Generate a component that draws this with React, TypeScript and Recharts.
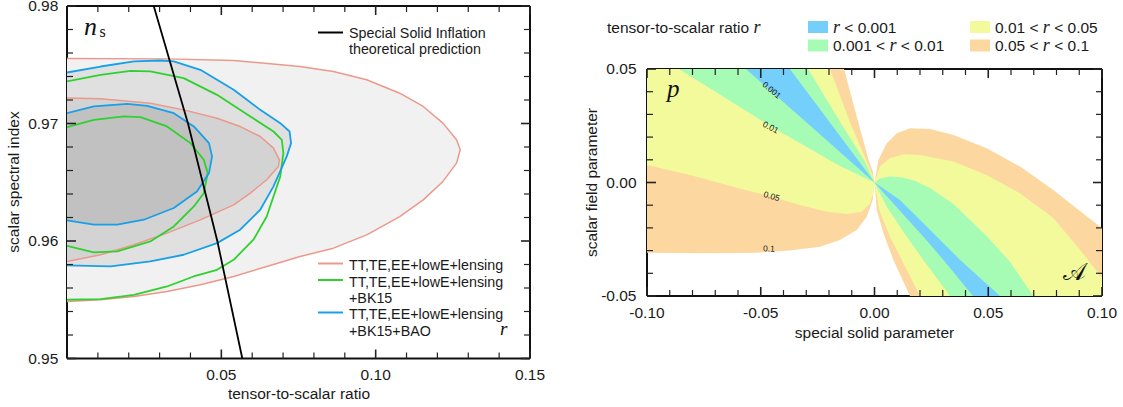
import { Scatter, ScatterChart, XAxis, YAxis } from "recharts"

type P = [number, number]

// ---------- left panel: r vs n_s contours ----------
const LX_TICKS = [0.01, 0.02, 0.03, 0.04, 0.05, 0.06, 0.07, 0.08, 0.09, 0.1, 0.11, 0.12, 0.13, 0.14, 0.15]
const LX_MAJOR = [0.05, 0.1, 0.15]
const LY_TICKS = [0.95, 0.952, 0.954, 0.956, 0.958, 0.96, 0.962, 0.964, 0.966, 0.968, 0.97, 0.972, 0.974, 0.976, 0.978, 0.98]
const LY_MAJOR = [0.95, 0.96, 0.97, 0.98]

const ttOuter: P[] = [
  [0, 0.97553], [0.0324, 0.9755], [0.054, 0.97536], [0.0755, 0.97485], [0.0863, 0.97443], [0.0971, 0.97372],
  [0.1078, 0.97258], [0.1154, 0.97145], [0.1218, 0.97003], [0.1262, 0.96861], [0.1274, 0.96776], [0.1262, 0.96663],
  [0.1218, 0.96507], [0.1154, 0.9635], [0.1078, 0.96208], [0.0971, 0.96052], [0.0863, 0.95939], [0.0755, 0.95868],
  [0.0647, 0.95783], [0.054, 0.95698], [0.0432, 0.95627], [0.0324, 0.9557], [0.0217, 0.95528], [0.0109, 0.955], [0, 0.95485],
]
const ttInner: P[] = [
  [0, 0.97216], [0.0109, 0.9721], [0.027, 0.97173], [0.0378, 0.97116], [0.0486, 0.97045], [0.0561, 0.96974],
  [0.0626, 0.96889], [0.0669, 0.9679], [0.0688, 0.96691], [0.0685, 0.96634], [0.0647, 0.96521], [0.0594, 0.96408],
  [0.054, 0.96308], [0.0432, 0.9618], [0.0324, 0.96067], [0.0217, 0.95968], [0.0109, 0.95883], [0, 0.95826],
]
const bk15Outer: P[] = [
  [0, 0.97358], [0.0109, 0.97414], [0.0206, 0.97448], [0.027, 0.97443], [0.0378, 0.97386], [0.0486, 0.97244],
  [0.0594, 0.9706], [0.0669, 0.96932], [0.0696, 0.96861], [0.0701, 0.96748], [0.0691, 0.9655], [0.0647, 0.96209],
  [0.0604, 0.96011], [0.054, 0.9584], [0.0486, 0.95755], [0.041, 0.95698], [0.0324, 0.95613], [0.0217, 0.95542],
  [0.0109, 0.95505], [0, 0.955],
]
const bk15Inner: P[] = [
  [0, 0.96969], [0.0087, 0.97031], [0.0184, 0.9706], [0.0238, 0.97054], [0.0324, 0.96975], [0.04, 0.96833],
  [0.0443, 0.96691], [0.0456, 0.96578], [0.0443, 0.96407], [0.0411, 0.96294], [0.0346, 0.96124], [0.027, 0.95996],
  [0.0163, 0.95911], [0.0087, 0.95903], [0, 0.95959],
]
const baoOuter: P[] = [
  [0, 0.97434], [0.0109, 0.97485], [0.0217, 0.97528], [0.0303, 0.97536], [0.0346, 0.97528], [0.0432, 0.97457],
  [0.054, 0.97287], [0.0626, 0.97116], [0.0691, 0.97003], [0.0721, 0.96932], [0.0726, 0.96833], [0.0712, 0.9672],
  [0.0669, 0.96465], [0.0626, 0.96266], [0.0561, 0.96096], [0.0486, 0.95982], [0.0378, 0.95883], [0.027, 0.95826],
  [0.0141, 0.95784], [0, 0.95792],
]
const baoInner: P[] = [
  [0, 0.97088], [0.0087, 0.97145], [0.0195, 0.97167], [0.026, 0.9715], [0.0346, 0.97088], [0.0411, 0.96975],
  [0.046, 0.96833], [0.047, 0.9672], [0.046, 0.96578], [0.0421, 0.96422], [0.0346, 0.96281], [0.0249, 0.96181],
  [0.0163, 0.96139], [0.0087, 0.96139], [0, 0.96176],
]
const theory: P[] = [[0.0281, 0.98], [0.0392, 0.97], [0.0487, 0.96], [0.0568, 0.95]]

// ---------- right panel: r bands in (A, p) plane ----------
const RX_TICKS = [-0.1, -0.09, -0.08, -0.07, -0.06, -0.05, -0.04, -0.03, -0.02, -0.01, 0, 0.01, 0.02, 0.03, 0.04, 0.05, 0.06, 0.07, 0.08, 0.09, 0.1]
const RX_MAJOR = [-0.1, -0.05, 0, 0.05, 0.1]
const RY_TICKS = [-0.05, -0.04, -0.03, -0.02, -0.01, 0, 0.01, 0.02, 0.03, 0.04, 0.05]
const RY_MAJOR = [-0.05, 0, 0.05]

// boundaries of the upper-left fan, top edge -> origin
const ulR01: P[] = [[-0.0134, 0.05], [-0.0068, 0.0253], [-0.0026, 0.0099], [-0.0007, 0.0046], [0, 0]]
const ulR005: P[] = [[-0.0196, 0.05], [-0.0103, 0.0253], [-0.0037, 0.0099], [-0.0009, 0.0033], [0, 0]]
const ulR001b: P[] = [[-0.0292, 0.05], [-0.0143, 0.0253], [-0.0046, 0.0099], [0, 0]]
const ulR0001b: P[] = [[-0.0372, 0.05], [-0.0188, 0.0253], [-0.0073, 0.0099], [0, 0]]
const ulR0001a: P[] = [[-0.0565, 0.05], [-0.0286, 0.0253], [-0.0112, 0.0099], [0, 0]]
const ulR001a: P[] = [[-0.086, 0.05], [-0.0451, 0.0245], [-0.0152, 0.0073], [-0.0055, 0.0026], [0, 0]]
// lower-left lobes, left edge -> origin
const llR005: P[] = [
  [-0.1, 0.0077], [-0.0811, 0.0033], [-0.0592, -0.0026], [-0.0452, -0.0063], [-0.0328, -0.0099], [-0.021, -0.0129],
  [-0.0122, -0.0139], [-0.0056, -0.0129], [-0.002, -0.0092], [-0.0005, -0.0048], [0, 0],
]
const llR01: P[] = [
  [-0.1, -0.0309], [-0.0738, -0.0312], [-0.0518, -0.0309], [-0.0372, -0.03], [-0.024, -0.0283], [-0.0152, -0.0253],
  [-0.0078, -0.0209], [-0.0034, -0.0151], [-0.0008, -0.0077], [0, 0],
]
// upper-right lobes, origin -> right / bottom edge
const urR01: P[] = [
  [0, 0], [0.0017, 0.0099], [0.0054, 0.0173], [0.0098, 0.0217], [0.0156, 0.0239], [0.0244, 0.0236], [0.0347, 0.0209],
  [0.0493, 0.0151], [0.064, 0.007], [0.0786, -0.0033], [0.0889, -0.0114], [0.1, -0.0202],
]
const urR005: P[] = [
  [0, 0], [0.0024, 0.007], [0.0068, 0.0107], [0.0127, 0.0124], [0.02, 0.0121], [0.0347, 0.0092], [0.0493, 0.0033],
  [0.064, -0.0048], [0.0786, -0.0156], [0.0904, -0.0297], [0.1, -0.0421],
]
const urR001: P[] = [
  [0, 0], [0.0024, 0.0018], [0.0068, 0.0026], [0.0125, 0.0022], [0.0178, 0.0007], [0.0244, -0.0024], [0.0347, -0.0095],
  [0.0493, -0.0236], [0.0596, -0.035], [0.0698, -0.05],
]
// lower-right fan, origin -> bottom edge
const lrR0001b: P[] = [[0, 0], [0.0112, -0.0077], [0.0274, -0.0239], [0.0376, -0.0341], [0.0552, -0.05]]
const lrR0001a: P[] = [[0, 0], [0.0083, -0.0092], [0.0215, -0.0239], [0.0303, -0.0341], [0.0433, -0.05]]
const lrR001: P[] = [[0, 0], [0.0054, -0.0107], [0.0142, -0.0239], [0.0215, -0.0341], [0.0332, -0.05]]
const lrR005: P[] = [[0, 0], [0.0021, -0.0121], [0.0068, -0.0239], [0.012, -0.0341], [0.02, -0.05]]
const lrR01: P[] = [[0, 0], [0.001, -0.0121], [0.0039, -0.0224], [0.0083, -0.0341], [0.0156, -0.05]]

const FONT = '"Liberation Sans", Arial, Helvetica, sans-serif'
const SERIF = '"Liberation Serif", "DejaVu Serif", serif'
const BLUE = "#74cffb"
const GREEN = "#a6fbb5"
const YELLOW = "#f2fa9c"
const ORANGE = "#fcd8a0"
const SALMON = "#e99a8b"
const LGREEN = "#2fd12f"
const LBLUE = "#18a0e6"

const pts = (a: P[]) => a.map(([x, y]) => ({ x, y }))
const rev = (a: P[]) => [...a].reverse()
const noDot = () => <g />

const leftFills = [
  { data: ttOuter, color: "#f1f1f1" },
  { data: baoOuter, color: "#e0e0e0" },
  { data: ttInner, color: "#d3d3d3" },
  { data: baoInner, color: "#c1c1c1" },
]
const leftLines = [
  { data: ttOuter, color: SALMON, w: 1.5 },
  { data: ttInner, color: SALMON, w: 1.5 },
  { data: bk15Outer, color: LGREEN, w: 1.8 },
  { data: bk15Inner, color: LGREEN, w: 1.8 },
  { data: baoOuter, color: LBLUE, w: 1.8 },
  { data: baoInner, color: LBLUE, w: 1.8 },
  { data: theory, color: "#000", w: 1.8 },
]
const rightFills = [
  { data: [[-0.1, 0.05] as P, ...ulR01, ...rev(llR01)], color: ORANGE },
  { data: [[-0.1, 0.05] as P, ...ulR005, ...rev(llR005)], color: YELLOW },
  { data: [...ulR001a, ...rev(ulR001b)], color: GREEN },
  { data: [...ulR0001a, ...rev(ulR0001b)], color: BLUE },
  { data: [...urR01, [0.1, -0.05] as P, ...rev(lrR01)], color: ORANGE },
  { data: [...urR005, [0.1, -0.05] as P, ...rev(lrR005)], color: YELLOW },
  { data: [...urR001, ...rev(lrR001)], color: GREEN },
  { data: [...lrR0001b, ...rev(lrR0001a)], color: BLUE },
]

type Side = "bottom" | "top" | "left" | "right"
function makeTick(side: Side, gap: number, majors: number[], labels: boolean) {
  return (p: any) => {
    const v = p.payload.value as number
    const major = majors.some((m) => Math.abs(m - v) < 1e-9)
    const len = major ? 9 : 6
    let x1 = p.x, y1 = p.y, x2 = p.x, y2 = p.y
    if (side === "bottom") { y1 = p.y - gap; y2 = y1 - len }
    if (side === "top") { y1 = p.y + gap; y2 = y1 + len }
    if (side === "left") { x1 = p.x + gap; x2 = x1 + len }
    if (side === "right") { x1 = p.x - gap; x2 = x1 - len }
    return (
      <g>
        <line x1={x1} y1={y1} x2={x2} y2={y2} stroke="#222" strokeWidth={major ? 1.6 : 1.2} />
        {labels && major && (
          <text x={p.x} y={p.y} textAnchor={side === "left" ? "end" : "middle"} dy={side === "left" ? "0.35em" : "0.71em"}
            fontSize={15.5} fill="#1a1a1a" fontFamily={FONT}>
            {v.toFixed(2)}
          </text>
        )}
      </g>
    )
  }
}

const AX = { stroke: "#111", strokeWidth: 2 }

function LeftPanel() {
  return (
    <div style={{ position: "absolute", left: 0, top: 0 }}>
      <ScatterChart width={560} height={407} margin={{ top: 5, right: 29, bottom: 47.5, left: 66 }}>
        <XAxis type="number" dataKey="x" domain={[0, 0.15]} allowDataOverflow ticks={LX_TICKS} interval={0} height={1}
          tickSize={0} tickMargin={10.5} tickLine={false} axisLine={AX} tick={makeTick("bottom", 10.5, LX_MAJOR, true)} />
        <XAxis xAxisId="top" orientation="top" type="number" dataKey="x" domain={[0, 0.15]} allowDataOverflow ticks={LX_TICKS}
          interval={0} height={1} tickSize={0} tickMargin={4} tickLine={false} axisLine={AX} tick={makeTick("top", 4, LX_MAJOR, false)} />
        <YAxis type="number" dataKey="y" domain={[0.95, 0.98]} allowDataOverflow ticks={LY_TICKS} interval={0} width={1}
          tickSize={0} tickMargin={8.7} tickLine={false} axisLine={AX} tick={makeTick("left", 8.7, LY_MAJOR, true)} />
        <YAxis yAxisId="right" orientation="right" type="number" dataKey="y" domain={[0.95, 0.98]} allowDataOverflow ticks={LY_TICKS}
          interval={0} width={1} tickSize={0} tickMargin={4} tickLine={false} axisLine={AX} tick={makeTick("right", 4, LY_MAJOR, false)} />
        {leftFills.map((f, i) => (
          <Scatter key={"f" + i} data={pts(f.data)} shape={noDot} line={{ fill: f.color, stroke: "none" }} isAnimationActive={false} />
        ))}
        {leftLines.map((l, i) => (
          <Scatter key={"l" + i} data={pts(l.data)} shape={noDot}
            line={{ fill: "none", stroke: l.color, strokeWidth: l.w, strokeLinejoin: "round" }} isAnimationActive={false} />
        ))}
      </ScatterChart>
    </div>
  )
}

function RightPanel() {
  return (
    <div style={{ position: "absolute", left: 560, top: 0 }}>
      <ScatterChart width={563} height={407} margin={{ top: 68, right: 20, bottom: 110, left: 86 }}>
        <XAxis type="number" dataKey="x" domain={[-0.1, 0.1]} allowDataOverflow ticks={RX_TICKS} interval={0} height={1}
          tickSize={0} tickMargin={11} tickLine={false} axisLine={AX} tick={makeTick("bottom", 11, RX_MAJOR, true)} />
        <XAxis xAxisId="top" orientation="top" type="number" dataKey="x" domain={[-0.1, 0.1]} allowDataOverflow ticks={RX_TICKS}
          interval={0} height={1} tickSize={0} tickMargin={4} tickLine={false} axisLine={AX} tick={makeTick("top", 4, RX_MAJOR, false)} />
        <YAxis type="number" dataKey="y" domain={[-0.05, 0.05]} allowDataOverflow ticks={RY_TICKS} interval={0} width={1}
          tickSize={0} tickMargin={10.5} tickLine={false} axisLine={AX} tick={makeTick("left", 10.5, RY_MAJOR, true)} />
        <YAxis yAxisId="right" orientation="right" type="number" dataKey="y" domain={[-0.05, 0.05]} allowDataOverflow ticks={RY_TICKS}
          interval={0} width={1} tickSize={0} tickMargin={4} tickLine={false} axisLine={AX} tick={makeTick("right", 4, RY_MAJOR, false)} />
        {rightFills.map((f, i) => (
          <Scatter key={"r" + i} data={pts(f.data)} shape={noDot} line={{ fill: f.color, stroke: "none" }} isAnimationActive={false} />
        ))}
      </ScatterChart>
    </div>
  )
}

function Annotations() {
  const t = { fontFamily: FONT, fill: "#1a1a1a" }
  const legendRows = [
    { y: 270, text: "TT,TE,EE+lowE+lensing", color: SALMON },
    { y: 286.5, text: "TT,TE,EE+lowE+lensing", color: LGREEN },
    { y: 302.5, text: "+BK15", color: "" },
    { y: 319, text: "TT,TE,EE+lowE+lensing", color: LBLUE },
    { y: 335.5, text: "+BK15+BAO", color: "" },
  ]
  const bands = [
    { x: 808, y: 21, color: BLUE, pre: "", post: " < 0.001" },
    { x: 808, y: 39.5, color: GREEN, pre: "0.001 < ", post: " < 0.01" },
    { x: 970, y: 21, color: YELLOW, pre: "0.01 < ", post: " < 0.05" },
    { x: 970, y: 39.5, color: ORANGE, pre: "0.05 < ", post: " < 0.1" },
  ]
  const contourLabels = [
    { x: 771.7, y: 90, a: 40, s: "0.001" },
    { x: 770.7, y: 127.2, a: 28, s: "0.01" },
    { x: 771.7, y: 196.2, a: 16, s: "0.05" },
    { x: 769, y: 248.5, a: 2, s: "0.1" },
  ]
  return (
    <svg width={1123} height={407} style={{ position: "absolute", left: 0, top: 0, pointerEvents: "none" }}>
      {/* left panel */}
      <text x={84} y={35} fontFamily={SERIF} fontStyle="italic" fontSize={26} fill="#111">n</text>
      <text x={99.5} y={36.5} fontFamily={SERIF} fontSize={16} fill="#111">s</text>
      <text x={500} y={335} fontFamily={SERIF} fontStyle="italic" fontSize={19} fill="#111">r</text>
      <line x1={318} x2={343} y1={32.5} y2={32.5} stroke="#000" strokeWidth={2} />
      <text x={349} y={37.8} fontSize={14.3} {...t}>Special Solid Inflation</text>
      <text x={349} y={54.3} fontSize={14.3} {...t}>theoretical prediction</text>
      {legendRows.map((r, i) => (
        <g key={i}>
          {r.color && <line x1={318} x2={343} y1={r.y - 6.5} y2={r.y - 6.5} stroke={r.color} strokeWidth={2} />}
          <text x={349} y={r.y} fontSize={14.3} {...t}>{r.text}</text>
        </g>
      ))}
      <text x={299} y={399} textAnchor="middle" fontSize={15.5} {...t}>tensor-to-scalar ratio</text>
      <text transform="translate(19,182) rotate(-90)" textAnchor="middle" fontSize={15.5} {...t}>scalar spectral index</text>

      {/* right panel */}
      <text x={607} y={32.5} fontSize={15.5} {...t}>
        tensor-to-scalar ratio <tspan fontFamily={SERIF} fontStyle="italic" fontSize={18}>r</tspan>
      </text>
      {bands.map((b, i) => (
        <g key={i}>
          <rect x={b.x} y={b.y} width={20} height={12} fill={b.color} />
          <text x={b.x + 25} y={b.y + 11.5} fontSize={15.5} {...t}>
            {b.pre}<tspan fontFamily={SERIF} fontStyle="italic" fontSize={18}>r</tspan>{b.post}
          </text>
        </g>
      ))}
      {contourLabels.map((c, i) => (
        <text key={i} transform={`translate(${c.x},${c.y}) rotate(${c.a})`} textAnchor="middle" dy="0.35em" fontSize={8.5} {...t}>
          {c.s}
        </text>
      ))}
      <text x={667} y={97} fontFamily={SERIF} fontStyle="italic" fontSize={25} fill="#111">p</text>
      <text x={1063} y={280} fontFamily={SERIF} fontSize={24} fill="#111">𝒜</text>
      <text x={874.5} y={338} textAnchor="middle" fontSize={15.5} {...t}>special solid parameter</text>
      <text transform="translate(597,182.5) rotate(-90)" textAnchor="middle" fontSize={15.5} {...t}>scalar field parameter</text>
    </svg>
  )
}

export default function App() {
  return (
    <div style={{ position: "absolute", left: 0, top: 0, width: 1123, height: 407, background: "#fff", overflow: "hidden", fontFamily: FONT }}>
      <LeftPanel />
      <RightPanel />
      <Annotations />
    </div>
  )
}
